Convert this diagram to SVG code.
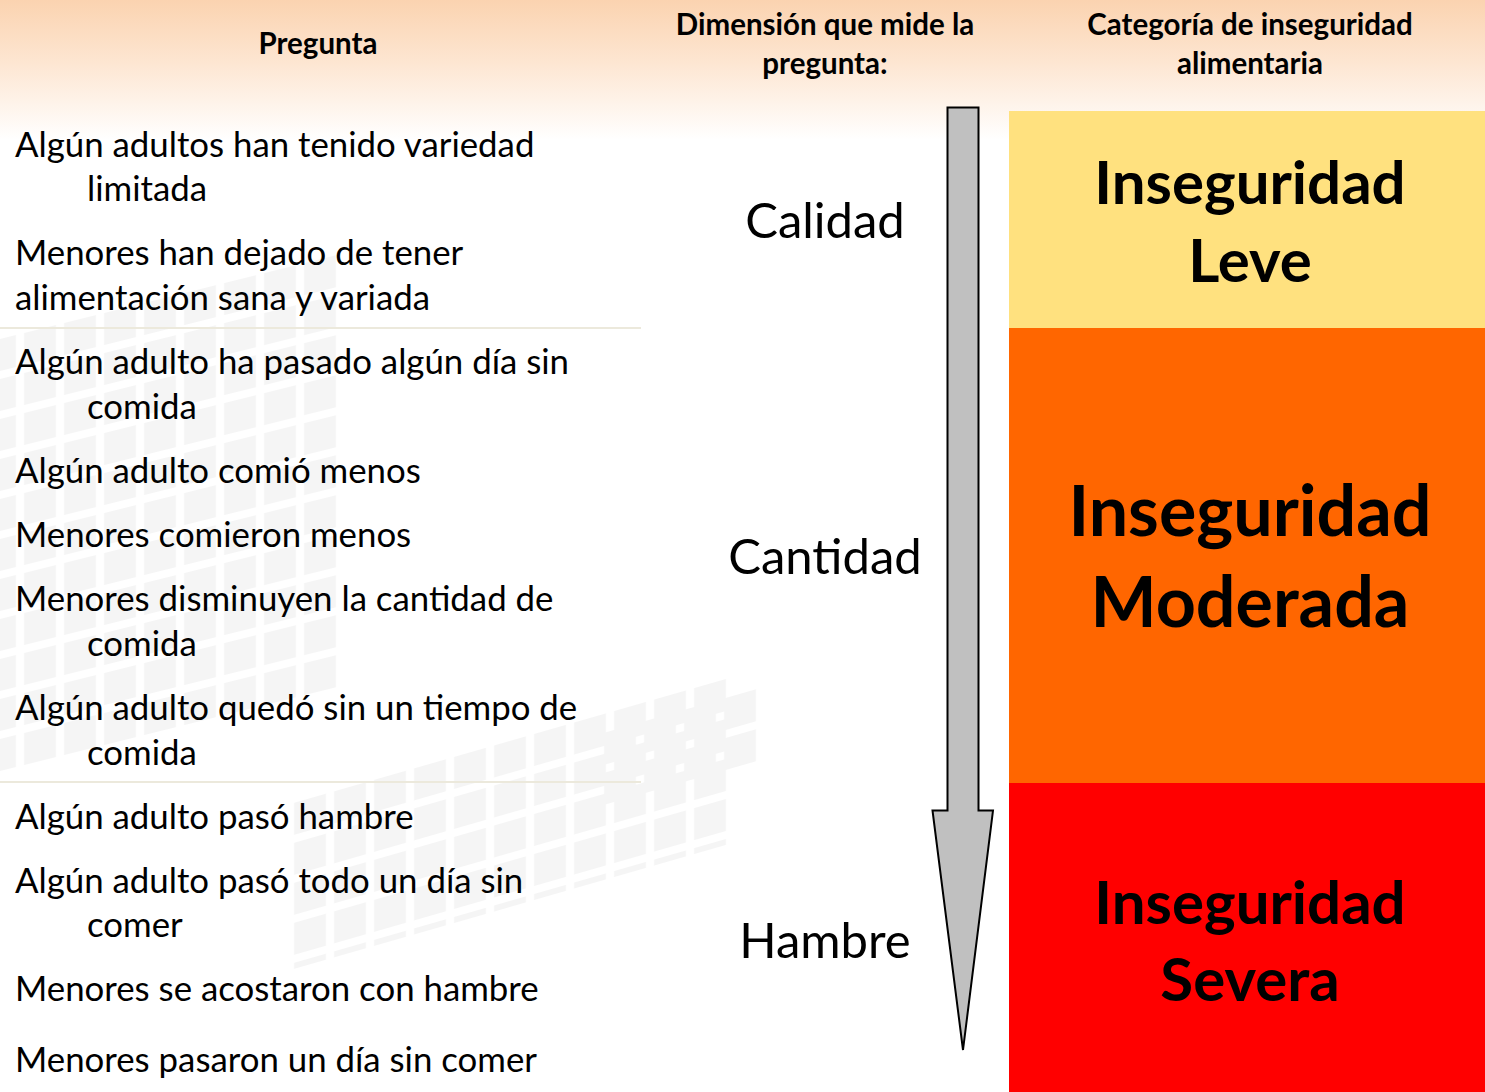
<svg xmlns="http://www.w3.org/2000/svg" width="1485" height="1092" viewBox="0 0 1485 1092">
<defs>
<linearGradient id="hdr" x1="0" y1="0" x2="0" y2="1">
<stop offset="0" stop-color="#FBD3B0"/>
<stop offset="0.45" stop-color="#FDE6D2"/>
<stop offset="1" stop-color="#FFFFFF"/>
</linearGradient>
<pattern id="sq" x="0" y="0" width="40" height="40" patternUnits="userSpaceOnUse">
<rect x="4" y="4" width="32" height="32" fill="#F5F5F5"/>
</pattern>
</defs>
<style>
.q{font-family:Lato,"Open Sans",sans-serif;font-size:34.8px;fill:#000}
.h{font-family:Lato,"Open Sans",sans-serif;font-size:29.5px;font-weight:bold;fill:#000;text-anchor:middle}
.d{font-family:Lato,"Open Sans",sans-serif;font-size:49px;fill:#000;text-anchor:middle}
.c{font-family:Lato,"Open Sans",sans-serif;font-weight:bold;fill:#000;text-anchor:middle}
.sep{stroke:#ECE9DC;stroke-width:2}
</style>
<rect width="1485" height="1092" fill="#FFFFFF"/>
<rect width="1485" height="140" fill="url(#hdr)"/>
<g id="watermark">
<g transform="translate(-20,340) skewY(-14)"><rect width="360" height="440" fill="url(#sq)"/></g>
<g transform="translate(290,800) skewY(-16)"><rect width="440" height="170" fill="url(#sq)"/></g>
<g transform="translate(600,730) skewY(-16)"><rect width="160" height="80" fill="url(#sq)"/></g>
</g>
<g id="header">
<text class="h" x="318" y="54">Pregunta</text>
<text class="h" x="825" y="35">Dimensión que mide la</text>
<text class="h" x="825" y="74">pregunta:</text>
<text class="h" x="1250" y="35">Categoría de inseguridad</text>
<text class="h" x="1250" y="74">alimentaria</text>
</g>
<g id="questions">
<text class="q" x="15" y="157">Algún adultos han tenido variedad</text>
<text class="q" x="87" y="201">limitada</text>
<text class="q" x="15" y="265">Menores han dejado de tener</text>
<text class="q" x="15" y="310">alimentación sana y variada</text>
<text class="q" x="15" y="374">Algún adulto ha pasado algún día sin</text>
<text class="q" x="87" y="419">comida</text>
<text class="q" x="15" y="483">Algún adulto comió menos</text>
<text class="q" x="15" y="547">Menores comieron menos</text>
<text class="q" x="15" y="611">Menores disminuyen la cantidad de</text>
<text class="q" x="87" y="656">comida</text>
<text class="q" x="15" y="720">Algún adulto quedó sin un tiempo de</text>
<text class="q" x="87" y="765">comida</text>
<text class="q" x="15" y="829">Algún adulto pasó hambre</text>
<text class="q" x="15" y="893">Algún adulto pasó todo un día sin</text>
<text class="q" x="87" y="937">comer</text>
<text class="q" x="15" y="1001">Menores se acostaron con hambre</text>
<text class="q" x="15" y="1072">Menores pasaron un día sin comer</text>
<line class="sep" x1="0" y1="328" x2="641" y2="328"/>
<line class="sep" x1="0" y1="782" x2="641" y2="782"/>
</g>
<g id="dimensions">
<text class="d" x="825" y="238">Calidad</text>
<text class="d" x="825" y="574">Cantidad</text>
<text class="d" x="825" y="958">Hambre</text>
</g>
<g id="connectors">
<path d="M947.5,107.5 L978.5,107.5 L978.5,810.5 L993,810.5 L963,1050 L932.5,810.5 L947.5,810.5 Z" fill="#C0C0C0" stroke="#000" stroke-width="2"/>
</g>
<g id="leve">
<rect x="1009" y="111" width="476" height="217" fill="#FFE17F"/>
<text class="c" x="1250" y="204" font-size="60">Inseguridad</text>
<text class="c" x="1250" y="282" font-size="60">Leve</text>
</g>
<g id="moderada">
<rect x="1009" y="328" width="476" height="455" fill="#FF6600"/>
<text class="c" x="1250" y="536" font-size="70">Inseguridad</text>
<text class="c" x="1250" y="627" font-size="70">Moderada</text>
</g>
<g id="severa">
<rect x="1009" y="783" width="476" height="309" fill="#FF0000"/>
<text class="c" x="1250" y="924" font-size="60">Inseguridad</text>
<text class="c" x="1250" y="1001" font-size="60">Severa</text>
</g>
</svg>
